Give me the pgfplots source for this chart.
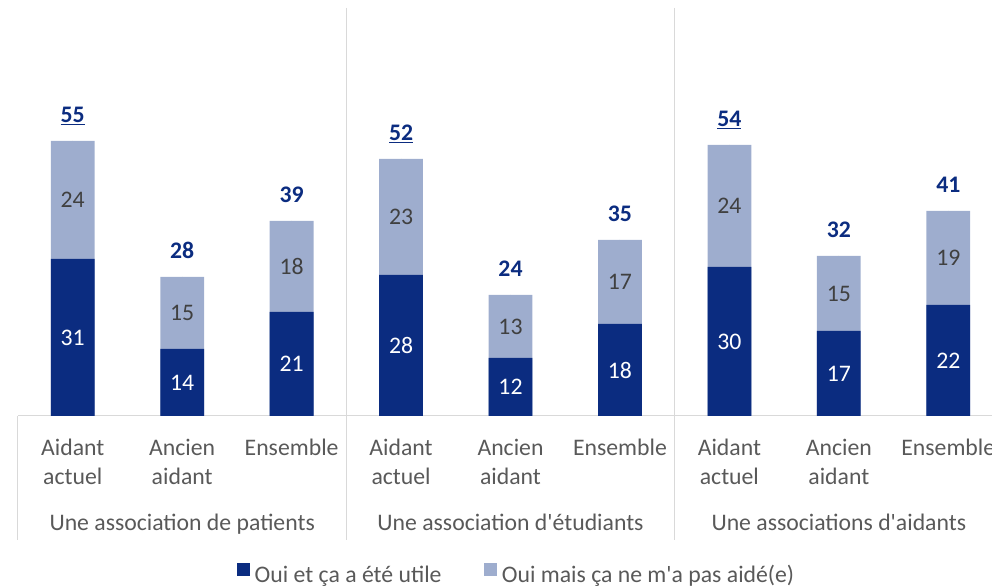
\documentclass[border=0pt]{standalone}
\usepackage{fontspec}
\setmainfont{Carlito}
\usepackage{pgfplots}
\pgfplotsset{compat=1.18}
\usepackage{pgfplotstable}
\definecolor{navy}{RGB}{11,44,128}
\definecolor{lightb}{RGB}{158,173,206}
\definecolor{axgray}{RGB}{217,217,217}
\definecolor{txtgray}{RGB}{89,89,89}
\definecolor{lbltxt}{RGB}{64,64,64}
\newcommand{\cf}{\fontsize{17.8}{21.75}\selectfont}
\newcommand{\q}{\textquotesingle}

\pgfplotstableread{
x dark total dlab llab tlab
0 31.4 55.0 31 24 \underline{55}
1 13.4 27.8 14 15 28
2 20.8 39.0 21 18 39
3 28.2 51.4 28 23 \underline{52}
4 11.6 24.2 12 13 24
5 18.4 35.2 18 17 35
6 29.8 54.2 30 24 \underline{54}
7 17.0 32.0 17 15 32
8 22.2 41.0 22 19 41
}\data

\begin{document}
\begin{tikzpicture}
\begin{axis}[
  scale only axis, width=738.75pt, height=306pt,
  xmin=-0.5, xmax=8.5, ymin=0, ymax=81.6,
  axis x line=bottom, axis y line=none,
  x axis line style={draw=axgray, line width=0.75pt, -},
  xtick={0,...,8}, major tick length=0pt, ytick=\empty,
  xticklabels={{Aidant\\actuel},{Ancien\\aidant},Ensemble,{Aidant\\actuel},{Ancien\\aidant},Ensemble,{Aidant\\actuel},{Ancien\\aidant},Ensemble},
  xticklabel style={align=center, anchor=north, inner sep=0pt, yshift=-17pt, font=\cf, text=txtgray},
  clip=false,
  legend columns=2,
  legend style={at={(0.5076,-0.39)}, anchor=center, draw=none, fill=none, font=\cf, text=txtgray,
    /tikz/every even column/.append style={column sep=28pt},
    nodes={inner sep=3.75pt}},
  legend image code/.code={\fill[#1] (0pt,-1pt) rectangle (9.75pt,8.75pt);},
]
\addplot[ybar, bar width=0.4, bar shift=0pt, fill=lightb, draw=none, forget plot] table[x=x,y=total]{\data};
\addplot[ybar, bar width=0.4, bar shift=0pt, fill=navy, draw=none] table[x=x,y=dark]{\data};
\addlegendentry{Oui et ça a été utile}
\addlegendimage{fill=lightb, draw=none}
\addlegendentry{Oui mais ça ne m\q a pas aidé(e)}

\addplot[only marks, mark=*, mark size=0pt, mark options={draw=none,fill=none}, forget plot,
  nodes near coords, point meta=explicit symbolic,
  every node near coord/.style={anchor=center, text=white, font=\cf}]
  table[x=x, y expr=\thisrow{dark}/2, meta=dlab]{\data};
\addplot[only marks, mark=*, mark size=0pt, mark options={draw=none,fill=none}, forget plot,
  nodes near coords, point meta=explicit symbolic,
  every node near coord/.style={anchor=center, text=lbltxt, font=\cf}]
  table[x=x, y expr=(\thisrow{dark}+\thisrow{total})/2, meta=llab]{\data};
\addplot[only marks, mark=*, mark size=0pt, mark options={draw=none,fill=none}, forget plot,
  nodes near coords, point meta=explicit symbolic,
  every node near coord/.style={anchor=base, yshift=14pt, inner sep=0pt, text=navy, font=\cf\bfseries}]
  table[x=x, y=total, meta=tlab]{\data};

\draw[axgray, line width=0.75pt] (axis cs:-0.5,0) -- ([yshift=-93pt]axis cs:-0.5,0);
\draw[axgray, line width=0.75pt] (axis cs:2.5,81.6) -- ([yshift=-93pt]axis cs:2.5,0);
\draw[axgray, line width=0.75pt] (axis cs:5.5,81.6) -- ([yshift=-93pt]axis cs:5.5,0);

\node[anchor=base, font=\cf, text=txtgray] at ([yshift=-85.5pt]axis cs:1,0) {Une association de patients};
\node[anchor=base, font=\cf, text=txtgray] at ([yshift=-85.5pt]axis cs:4,0) {Une association d\q étudiants};
\node[anchor=base, font=\cf, text=txtgray] at ([yshift=-85.5pt]axis cs:7,0) {Une associations d\q aidants};
\end{axis}
\pgfresetboundingbox
\useasboundingbox (-13.5pt,-129pt) rectangle (730.5pt,312pt);
\end{tikzpicture}
\end{document}
